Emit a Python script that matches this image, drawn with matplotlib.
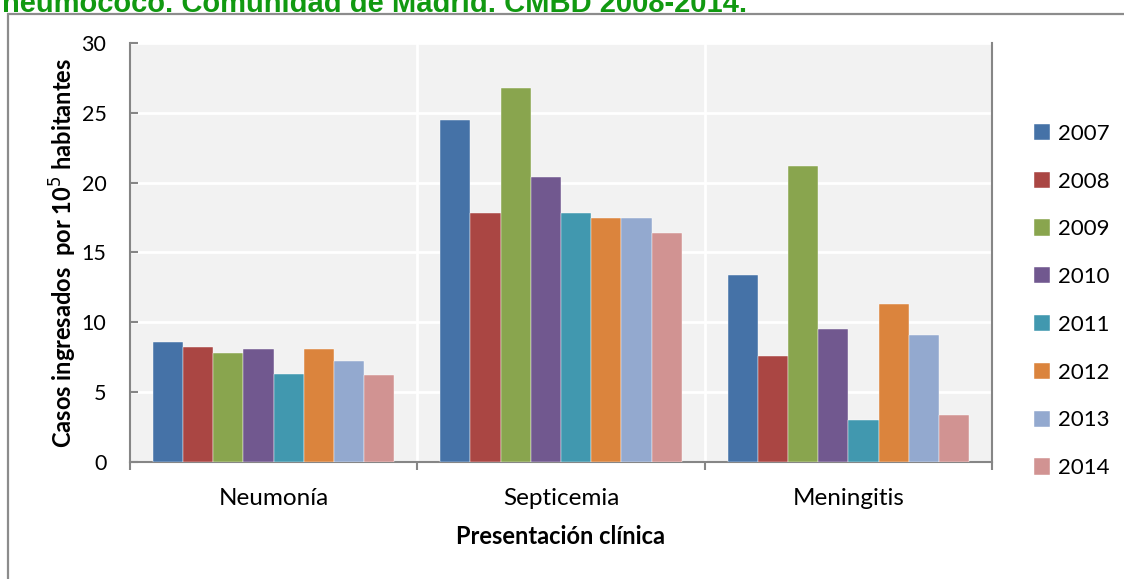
import matplotlib
matplotlib.use('Agg')
import matplotlib.pyplot as plt
from matplotlib.patches import Rectangle
import numpy as np

plt.rcParams['font.family'] = ['Lato', 'DejaVu Sans']

categories = ['Neumonía', 'Septicemia', 'Meningitis']
years = ['2007', '2008', '2009', '2010', '2011', '2012', '2013', '2014']
values = {
    '2007': [8.6, 24.5, 13.4],
    '2008': [8.2, 17.8, 7.6],
    '2009': [7.8, 26.8, 21.2],
    '2010': [8.1, 20.4, 9.5],
    '2011': [6.3, 17.8, 3.0],
    '2012': [8.1, 17.5, 11.3],
    '2013': [7.2, 17.5, 9.1],
    '2014': [6.2, 16.4, 3.4],
}
colors = ['#4572A7', '#AA4643', '#89A54E', '#71588F',
          '#4198AF', '#DB843D', '#93A9CF', '#D19392']

W, H = 1124, 579
fig = plt.figure(figsize=(W / 100, H / 100), dpi=100)
ax = fig.add_axes([130 / W, (H - 462) / H, 862 / W, 419 / H])

# outer chart frame, runs off the right and bottom edges
fig.patches.append(Rectangle((8 / W, -0.1), 1.2, (H - 14) / H + 0.1,
                             transform=fig.transFigure, fill=False,
                             edgecolor='#8c8c8c', linewidth=1.6))

fig.text(2 / W, 1 - 12 / H, 'neumococo. Comunidad de Madrid. CMBD 2008-2014.',
         color='#119911', fontsize=21, fontweight='bold',
         family='Liberation Sans', va='baseline', ha='left')

x = np.arange(len(categories))
n = len(years)
bw = 0.84 / n
for i, (yr, c) in enumerate(zip(years, colors)):
    ax.bar(x - 0.42 + bw * (i + 0.5), values[yr], bw, color=c,
           label=yr, zorder=3, edgecolor='white', linewidth=0.3)

ax.set_facecolor('#F2F2F2')
ax.set_xlim(-0.5, 2.5)
ax.set_ylim(0, 30)
ax.set_yticks(range(0, 31, 5))
ax.grid(axis='y', color='white', linewidth=2, zorder=1)
for b in [0.5, 1.5]:
    ax.axvline(b, color='white', linewidth=2, zorder=1)

ax.set_xticks([-0.5, 0.5, 1.5, 2.5], minor=False)
ax.set_xticklabels([])
ax.set_xticks(x, minor=True)
ax.set_xticklabels(categories, minor=True, fontsize=17.5)
ax.tick_params(axis='x', which='major', direction='out', length=6,
               color='#868686', width=1.5)
ax.tick_params(axis='x', which='minor', length=0, pad=19)
ax.tick_params(axis='y', direction='in', length=6, color='#868686',
               width=1.5, labelsize=15.5, pad=17)

for side in ['left', 'bottom', 'right']:
    ax.spines[side].set_color('#868686')
    ax.spines[side].set_linewidth(1.5)
ax.spines['top'].set_visible(False)

ax.set_ylabel('Casos ingresados  por 10$^5$ habitantes', fontsize=17,
              fontweight='bold', labelpad=2)
ax.set_xlabel('Presentación clínica', fontsize=17, fontweight='bold',
              labelpad=11)

ax.legend(loc='upper left', bbox_to_anchor=(1.025, 0.855), frameon=False,
          fontsize=16, handlelength=0.75, handleheight=0.75,
          handletextpad=0.35, labelspacing=1.25)

fig.savefig('out.png', dpi=100)
